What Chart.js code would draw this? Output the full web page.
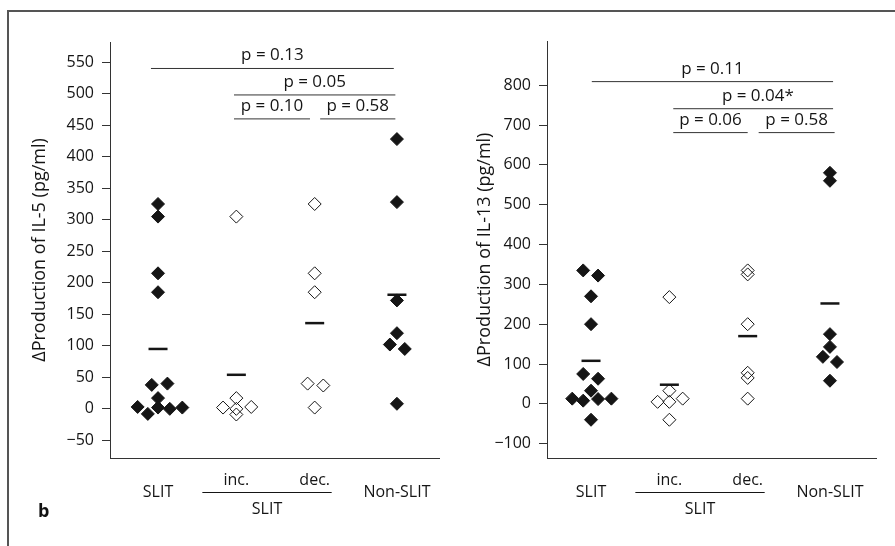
<!DOCTYPE html>
<html>
<head>
<meta charset="utf-8">
<script src="https://cdn.jsdelivr.net/npm/chart.js@4.4.1/dist/chart.umd.min.js"></script>
<style>
  html, body { margin: 0; padding: 0; background: #fff; }
  body { width: 895px; height: 546px; position: relative; overflow: hidden; font-family: "Open Sans", sans-serif; }
  .frame { position: absolute; left: 7px; top: 10px; width: 900px; height: 600px; border-left: 2px solid #555; border-top: 2px solid #555; }
  .panel { position: absolute; top: 0; height: 546px; }
  #left { left: 0; width: 451px; }
  #right { left: 445px; width: 450px; }
  .tag { position: absolute; left: 38px; top: 498px; font-size: 18px; font-weight: bold; color: #111; }
</style>
</head>
<body>
<div class="frame"></div>
<div class="panel" id="left"><canvas id="il5"></canvas></div>
<div class="panel" id="right"><canvas id="il13"></canvas></div>
<div class="tag">b</div>
<script>
// groups along the x axis
const categories = ["SLIT", "inc.", "dec.", "Non-SLIT"];
const subLabel = "SLIT";
const groupX = [1, 2, 3, 4.05];

// IL-5 values (pg/ml)
const il5Slit = [325, 305, 215, 185, 38, 40, 17, 3, -8, 2, 0, 2];
const il5SlitJitter = [0, 0, 0, 0, -0.08, 0.12, 0, -0.26, -0.13, 0, 0.15, 0.31];
const il5Inc = [305, 17, 2, 0, -9, 3];
const il5IncJitter = [0, 0, -0.17, 0, 0, 0.19];
const il5Dec = [325, 215, 185, 40, 37, 2];
const il5DecJitter = [0, 0, 0, -0.09, 0.11, 0];
const il5Non = [428, 328, 172, 120, 102, 95, 8];
const il5NonJitter = [0, 0, 0, 0, -0.09, 0.1, 0];
const il5Mean = [95, 54, 136, 181];
const il5Ticks = [-50, 0, 50, 100, 150, 200, 250, 300, 350, 400, 450, 500, 550];
const il5SigText = ["p = 0.13", "p = 0.05", "p = 0.10", "p = 0.58"];
const il5SigFrom = [0.91, 1.97, 1.97, 3.07];
const il5SigTo = [4.01, 4.03, 2.94, 4.03];
const il5SigLevel = [540, 498, 460, 460];

// IL-13 values (pg/ml)
const il13Slit = [335, 322, 270, 200, 75, 63, 33, 13, 8, 12, 13, -40];
const il13SlitJitter = [-0.1, 0.09, 0, 0, -0.1, 0.09, 0, -0.24, -0.1, 0.09, 0.26, 0];
const il13Inc = [268, 33, 5, 5, 13, -40];
const il13IncJitter = [0, 0, -0.15, 0, 0.17, 0];
const il13Dec = [335, 325, 200, 78, 65, 13];
const il13DecJitter = [0, 0, 0, 0, 0, 0];
const il13Non = [580, 560, 175, 143, 118, 105, 58];
const il13NonJitter = [0, 0, 0, 0, -0.09, 0.09, 0];
const il13Mean = [108, 48, 170, 252];
const il13Ticks = [-100, 0, 100, 200, 300, 400, 500, 600, 700, 800];
const il13SigText = ["p = 0.11", "p = 0.04*", "p = 0.06", "p = 0.58"];
const il13SigFrom = [1.01, 2.05, 2.05, 3.14];
const il13SigTo = [4.09, 4.09, 3.0, 4.11];
const il13SigLevel = [809, 741, 681, 681];

const INK = "#151515";
const FONT = '"Open Sans", sans-serif';

const toPoints = (g, values, jitter) =>
  values.map((v, i) => ({ x: groupX[g] + jitter[i], y: v }));

// p-values above the bars and the category labels under the axis
const labelPlugin = {
  id: "labels",
  afterDatasetsDraw(chart, args, opts) {
    const { ctx, chartArea, scales } = chart;
    const x = scales.x, y = scales.y;
    ctx.save();
    ctx.fillStyle = INK;
    ctx.textAlign = "left";
    ctx.textBaseline = "alphabetic";
    ctx.font = "17px " + FONT;
    opts.sigText.forEach((t, i) => {
      const x1 = x.getPixelForValue(opts.sigFrom[i]);
      const x2 = x.getPixelForValue(opts.sigTo[i]);
      // centre the number itself, a trailing star hangs out to the right
      const w = ctx.measureText(t.replace(/\*$/, "")).width;
      ctx.fillText(t, (x1 + x2) / 2 - w / 2, y.getPixelForValue(opts.sigLevel[i]) - 8);
    });

    const base = chartArea.bottom;
    ctx.textAlign = "center";
    ctx.textBaseline = "middle";
    ctx.font = "16px " + FONT;
    ctx.fillText(categories[0], x.getPixelForValue(groupX[0]), base + 34);
    ctx.fillText(categories[3], x.getPixelForValue(groupX[3]), base + 34);
    ctx.fillText(categories[1], x.getPixelForValue(groupX[1]), base + 22);
    ctx.fillText(categories[2], x.getPixelForValue(groupX[2]), base + 22);
    const lx1 = x.getPixelForValue(groupX[1]) - 34;
    const lx2 = x.getPixelForValue(groupX[2]) + 17;
    ctx.strokeStyle = INK;
    ctx.lineWidth = 1;
    ctx.beginPath();
    ctx.moveTo(lx1, base + 34.5);
    ctx.lineTo(lx2, base + 34.5);
    ctx.stroke();
    ctx.fillText(subLabel, (lx1 + lx2) / 2, base + 51);
    ctx.restore();
  },
};

const makePanel = (id, cfg) => {
  const sigSets = cfg.sigText.map((t, i) => ({
    type: "line",
    data: [
      { x: cfg.sigFrom[i], y: cfg.sigLevel[i] },
      { x: cfg.sigTo[i], y: cfg.sigLevel[i] },
    ],
    borderColor: "#333",
    borderWidth: 1,
    pointRadius: 0,
  }));

  new Chart(document.getElementById(id), {
    type: "scatter",
    data: {
      datasets: [
        ...sigSets,
        {
          data: cfg.filled,
          pointStyle: "rectRot",
          pointRadius: 6.5,
          backgroundColor: INK,
          borderColor: INK,
          borderWidth: 1,
        },
        {
          data: cfg.open,
          pointStyle: "rectRot",
          pointRadius: 6.5,
          backgroundColor: "rgba(0,0,0,0)",
          borderColor: INK,
          borderWidth: 1,
        },
        {
          data: cfg.means,
          pointStyle: "line",
          pointRadius: 9.5,
          borderColor: INK,
          borderWidth: 2.5,
        },
      ],
    },
    options: {
      responsive: true,
      maintainAspectRatio: false,
      animation: false,
      events: [],
      layout: { padding: { left: 0, right: cfg.padRight, top: cfg.padTop, bottom: 0 } },
      plugins: {
        legend: { display: false },
        tooltip: { enabled: false },
        labels: {
          sigText: cfg.sigText,
          sigFrom: cfg.sigFrom,
          sigTo: cfg.sigTo,
          sigLevel: cfg.sigLevel,
        },
      },
      scales: {
        x: {
          type: "linear",
          min: cfg.xMin,
          max: cfg.xMax,
          ticks: { display: false },
          grid: { display: false },
          border: { display: true, color: "#333", width: 1 },
          afterFit: (s) => {
            s.height = 88;
            s.paddingLeft = 0;
            s.paddingRight = 0;
          },
        },
        y: {
          min: cfg.yMin,
          max: cfg.yMax,
          afterBuildTicks: (s) => { s.ticks = cfg.ticks.map((v) => ({ value: v })); },
          ticks: {
            color: INK,
            padding: 8,
            font: { family: FONT, size: 16 },
            callback: (v) => (v < 0 ? "\u2212" + Math.abs(v) : String(v)),
          },
          grid: { drawOnChartArea: false, drawTicks: true, tickLength: 8, color: "#333" },
          border: { display: true, color: "#333", width: 1 },
          title: {
            display: true,
            text: cfg.title,
            color: INK,
            font: { family: FONT, size: 18 },
            padding: { top: 29, bottom: 0 },
          },
          afterFit: (s) => { s.width = cfg.axisWidth; },
        },
      },
    },
    plugins: [labelPlugin],
  });
};

makePanel("il5", {
  title: "\u0394Production of IL-5 (pg/ml)",
  ticks: il5Ticks,
  yMin: -78,
  yMax: 582,
  xMin: 0.387,
  xMax: 4.587,
  axisWidth: 110,
  padRight: 12,
  padTop: 42,
  filled: [...toPoints(0, il5Slit, il5SlitJitter), ...toPoints(3, il5Non, il5NonJitter)],
  open: [...toPoints(1, il5Inc, il5IncJitter), ...toPoints(2, il5Dec, il5DecJitter)],
  means: il5Mean.map((m, g) => ({ x: groupX[g], y: m })),
  sigText: il5SigText,
  sigFrom: il5SigFrom,
  sigTo: il5SigTo,
  sigLevel: il5SigLevel,
});

makePanel("il13", {
  title: "\u0394Production of IL-13 (pg/ml)",
  ticks: il13Ticks,
  yMin: -136,
  yMax: 911,
  xMin: 0.438,
  xMax: 4.638,
  axisWidth: 102,
  padRight: 19,
  padTop: 41,
  filled: [...toPoints(0, il13Slit, il13SlitJitter), ...toPoints(3, il13Non, il13NonJitter)],
  open: [...toPoints(1, il13Inc, il13IncJitter), ...toPoints(2, il13Dec, il13DecJitter)],
  means: il13Mean.map((m, g) => ({ x: groupX[g], y: m })),
  sigText: il13SigText,
  sigFrom: il13SigFrom,
  sigTo: il13SigTo,
  sigLevel: il13SigLevel,
});
</script>
</body>
</html>
